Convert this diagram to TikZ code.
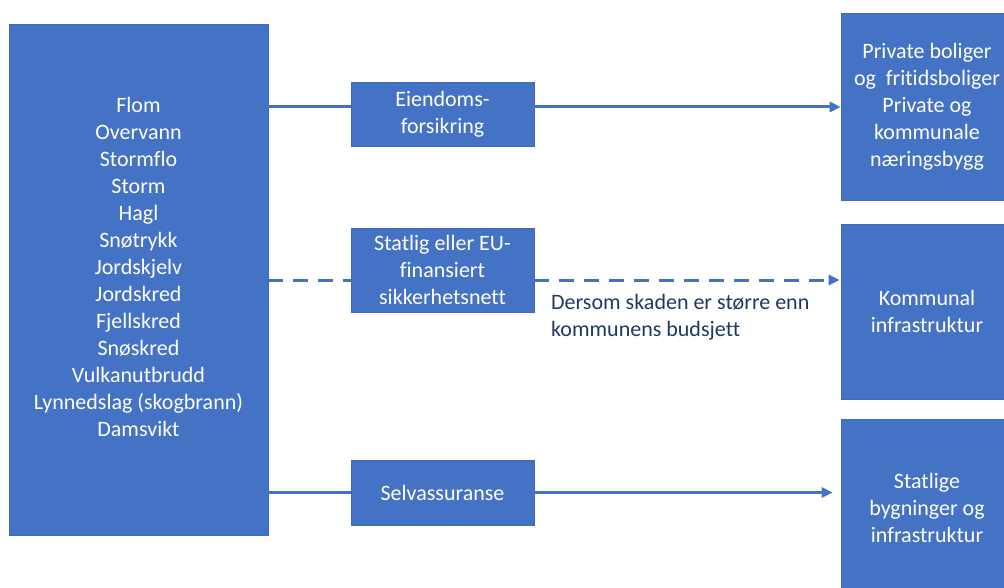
\documentclass[tikz,border=0pt]{standalone}
\usepackage{fontspec}
\setmainfont{Carlito}[Ligatures=NoCommon]
\usepackage{tikz}
\usetikzlibrary{positioning,shapes,arrows,arrows.meta}
\definecolor{boxblue}{HTML}{4472C4}
\definecolor{boxline}{HTML}{3F69B6}
\definecolor{notenavy}{HTML}{203864}

\begin{document}
\begin{tikzpicture}[
  x=1pt,y=-1pt,
  font=\fontsize{22}{27}\selectfont,
  bluebox/.style={draw=boxline,line width=0.6pt,fill=boxblue,text=white,align=center,inner sep=0pt},
  midbox/.style={bluebox,minimum width=183pt},
  endbox/.style={bluebox,minimum width=172pt},
  link/.style={draw=boxblue,line width=3pt},
  linkdash/.style={link,dash pattern=on 15pt off 10pt},
  tip/.style={-{Triangle[length=11pt,width=10pt]}}
]
\useasboundingbox (0,0) rectangle (1004,588);
\clip (0,0) rectangle (1004,588);

\node[bluebox,minimum width=259pt,minimum height=511pt] (hazards) at (138.5,279.5) {};
\node[text=white,align=center,inner sep=0pt] (hazlist) at (138.5,267) {Flom\\Overvann\\Stormflo\\Storm\\Hagl\\Snøtrykk\\Jordskjelv\\Jordskred\\Fjellskred\\Snøskred\\Vulkanutbrudd\\Lynnedslag (skogbrann)\\Damsvikt};

\node[midbox,minimum height=64pt] (ins) at (442.5,114) {Eiendoms-\\forsikring};
\node[midbox,minimum height=84pt] (net) at (442.5,270) {Statlig eller EU-\\finansiert\\sikkerhetsnett};
\node[midbox,minimum height=65pt] (selv) at (442.5,492.5) {Selvassuranse};

\node[endbox,minimum height=187pt] (priv) at (927,106.5) {Private boliger\\og\ \ fritidsboliger\\Private og\\kommunale\\næringsbygg};
\node[endbox,minimum height=175pt] (komm) at (927,311.5) {Kommunal\\infrastruktur};
\node[endbox,minimum height=178pt] (stat) at (927,508) {Statlige\\bygninger og\\infrastruktur};

\node[text=notenavy,align=left,anchor=west,inner sep=0pt] (note) at (551,317) {Dersom skaden er større enn\\kommunens budsjett};

\coordinate (yins) at (0,107);
\coordinate (ynet) at (0,280);

\path (hazards.east |- yins) edge[link] (ins.west |- yins)
(ins.east |- yins) edge[link,tip] (priv.west |- yins)
(hazards.east |- ynet) edge[linkdash] (net.west |- ynet)
(net.east |- ynet) edge[linkdash,tip,shorten >=1pt] (komm.west |- ynet)
(hazards.east |- selv.west) edge[link] (selv.west)
(selv.east) edge[link,tip,shorten >=8pt] (stat.west |- selv.east);

\end{tikzpicture}
\end{document}
